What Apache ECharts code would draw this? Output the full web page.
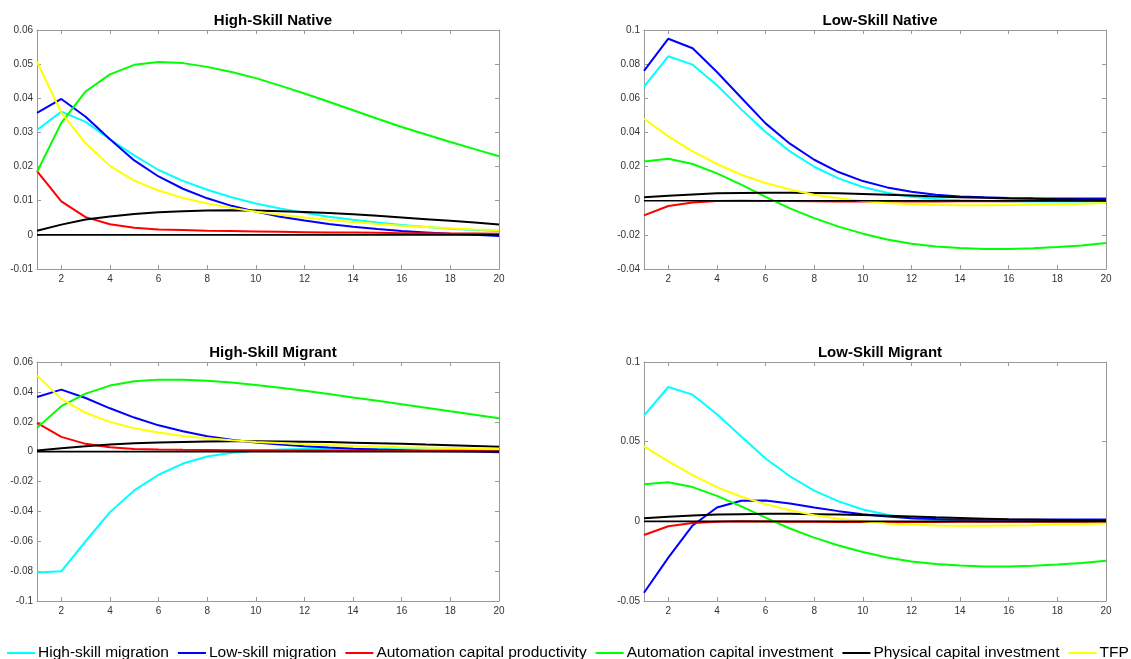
<!DOCTYPE html>
<html>
<head>
<meta charset="utf-8">
<script src="https://cdn.jsdelivr.net/npm/echarts@6/dist/echarts.min.js"></script>
<style>
html,body{margin:0;padding:0;background:#fff;}
#chart{width:1131px;height:659px;}
</style>
</head>
<body>
<div id="chart"></div>
<script>
// ---- data ----
const periods = [1,2,3,4,5,6,7,8,9,10,11,12,13,14,15,16,17,18,19,20];
const xTicks = [2,4,6,8,10,12,14,16,18,20];
const seriesNames = ['High-skill migration','Low-skill migration','Automation capital productivity','Automation capital investment','Physical capital investment','TFP'];
const panelTitles = ['High-Skill Native','Low-Skill Native','High-Skill Migrant','Low-Skill Migrant'];
const zeroLine = [0,0,0,0,0,0,0,0,0,0,0,0,0,0,0,0,0,0,0,0];

// High-Skill Native
const hsn_hs  = [0.0307,0.0361,0.0331,0.0280,0.0233,0.0190,0.0158,0.0132,0.0110,0.0092,0.0077,0.0065,0.0053,0.0044,0.0036,0.0029,0.0023,0.0018,0.0014,0.0011];
const hsn_ls  = [0.0357,0.0398,0.0346,0.0280,0.0218,0.0171,0.0135,0.0107,0.0085,0.0068,0.0053,0.0042,0.0032,0.0024,0.0017,0.0011,0.0007,0.0003,0.0000,-0.0003];
const hsn_acp = [0.0187,0.0098,0.0052,0.0031,0.0021,0.0016,0.0014,0.0012,0.0011,0.0010,0.0009,0.0008,0.0007,0.0007,0.0006,0.0005,0.0005,0.0004,0.0004,0.0003];
const hsn_aci = [0.0184,0.0328,0.0420,0.0470,0.0498,0.0506,0.0503,0.0492,0.0477,0.0459,0.0437,0.0414,0.0390,0.0365,0.0340,0.0316,0.0294,0.0272,0.0251,0.0230];
const hsn_pci = [0.0012,0.0030,0.0045,0.0054,0.0061,0.0066,0.0069,0.0071,0.0072,0.0071,0.0069,0.0067,0.0064,0.0060,0.0056,0.0051,0.0046,0.0041,0.0036,0.0030];
const hsn_tfp = [0.0507,0.0358,0.0268,0.0202,0.0159,0.0130,0.0108,0.0092,0.0079,0.0068,0.0059,0.0051,0.0044,0.0038,0.0032,0.0027,0.0023,0.0019,0.0016,0.0014];

// Low-Skill Native
const lsn_hs  = [0.0668,0.0846,0.0797,0.0676,0.0535,0.0402,0.0289,0.0199,0.0131,0.0080,0.0047,0.0023,0.0010,0.0003,-0.0001,-0.0003,-0.0004,-0.0004,-0.0004,-0.0004];
const lsn_ls  = [0.0760,0.0949,0.0893,0.0754,0.0603,0.0453,0.0334,0.0240,0.0168,0.0115,0.0078,0.0053,0.0035,0.0025,0.0020,0.0016,0.0014,0.0013,0.0013,0.0013];
const lsn_acp = [-0.0086,-0.0031,-0.0010,-0.0002,0.0000,-0.0001,-0.0002,-0.0003,-0.0004,-0.0004,-0.0004,-0.0004,-0.0004,-0.0003,-0.0003,-0.0003,-0.0002,-0.0002,-0.0002,-0.0002];
const lsn_aci = [0.0230,0.0246,0.0215,0.0160,0.0094,0.0023,-0.0045,-0.0102,-0.0152,-0.0193,-0.0227,-0.0252,-0.0268,-0.0277,-0.0283,-0.0283,-0.0279,-0.0271,-0.0262,-0.0248];
const lsn_pci = [0.0020,0.0029,0.0037,0.0043,0.0045,0.0047,0.0047,0.0045,0.0043,0.0039,0.0035,0.0030,0.0025,0.0021,0.0017,0.0013,0.0011,0.0008,0.0006,0.0004];
const lsn_tfp = [0.0480,0.0377,0.0289,0.0215,0.0152,0.0104,0.0066,0.0035,0.0014,-0.0002,-0.0014,-0.0021,-0.0025,-0.0027,-0.0027,-0.0025,-0.0023,-0.0021,-0.0018,-0.0014];

// High-Skill Migrant
const hsm_hs  = [-0.0810,-0.0801,-0.0600,-0.0405,-0.0260,-0.0155,-0.0080,-0.0033,-0.0008,0.0005,0.0014,0.0018,0.0020,0.0020,0.0018,0.0016,0.0014,0.0012,0.0010,0.0008];
const hsm_ls  = [0.0366,0.0415,0.0359,0.0290,0.0228,0.0176,0.0137,0.0103,0.0079,0.0061,0.0047,0.0036,0.0027,0.0020,0.0014,0.0010,0.0005,0.0003,0.0000,-0.0004];
const hsm_acp = [0.0192,0.0099,0.0052,0.0030,0.0018,0.0014,0.0012,0.0011,0.0010,0.0009,0.0008,0.0008,0.0007,0.0006,0.0006,0.0005,0.0005,0.0004,0.0004,0.0003];
const hsm_aci = [0.0159,0.0304,0.0388,0.0442,0.0471,0.0482,0.0482,0.0475,0.0462,0.0446,0.0428,0.0408,0.0386,0.0363,0.0341,0.0317,0.0294,0.0270,0.0247,0.0224];
const hsm_pci = [0.0007,0.0023,0.0036,0.0047,0.0056,0.0061,0.0065,0.0067,0.0069,0.0070,0.0068,0.0066,0.0064,0.0060,0.0056,0.0052,0.0047,0.0043,0.0038,0.0032];
const hsm_tfp = [0.0509,0.0353,0.0260,0.0199,0.0157,0.0128,0.0105,0.0090,0.0076,0.0065,0.0058,0.0050,0.0045,0.0038,0.0034,0.0030,0.0027,0.0025,0.0023,0.0020];

// Low-Skill Migrant
const lsm_hs  = [0.0664,0.0843,0.0795,0.0672,0.0532,0.0394,0.0283,0.0193,0.0125,0.0074,0.0041,0.0018,0.0008,0.0001,-0.0002,-0.0003,-0.0003,-0.0003,-0.0003,-0.0003];
const lsm_ls  = [-0.0448,-0.0228,-0.0026,0.0087,0.0129,0.0131,0.0112,0.0087,0.0064,0.0045,0.0031,0.0020,0.0014,0.0010,0.0010,0.0010,0.0010,0.0011,0.0011,0.0012];
const lsm_acp = [-0.0086,-0.0031,-0.0010,-0.0002,0.0000,-0.0001,-0.0002,-0.0003,-0.0004,-0.0004,-0.0004,-0.0004,-0.0004,-0.0003,-0.0003,-0.0003,-0.0002,-0.0002,-0.0002,-0.0002];
const lsm_aci = [0.0232,0.0245,0.0215,0.0160,0.0094,0.0023,-0.0045,-0.0102,-0.0152,-0.0193,-0.0227,-0.0252,-0.0268,-0.0277,-0.0283,-0.0283,-0.0279,-0.0271,-0.0262,-0.0248];
const lsm_pci = [0.0020,0.0029,0.0037,0.0043,0.0045,0.0047,0.0047,0.0045,0.0043,0.0039,0.0035,0.0030,0.0025,0.0021,0.0017,0.0013,0.0011,0.0008,0.0006,0.0004];
const lsm_tfp = [0.0470,0.0376,0.0290,0.0215,0.0154,0.0108,0.0070,0.0039,0.0016,0.0000,-0.0013,-0.0022,-0.0026,-0.0028,-0.0028,-0.0026,-0.0024,-0.0019,-0.0017,-0.0013];

// y-axis ranges per panel: [min, max, interval]
const yRanges = [[-0.01,0.06,0.01],[-0.04,0.1,0.02],[-0.1,0.06,0.02],[-0.05,0.1,0.05]];

// ---- styling / layout ----
const colors = ['#00ffff','#0000ff','#ff0000','#00ff00','#000000','#ffff00'];
const grids = [
  {left:37, top:30, width:462, height:239},
  {left:644, top:30, width:462, height:239},
  {left:37, top:362, width:462, height:239},
  {left:644, top:362, width:462, height:239}
];
const panelData = [
  [hsn_hs,hsn_ls,hsn_acp,hsn_aci,hsn_pci,hsn_tfp],
  [lsn_hs,lsn_ls,lsn_acp,lsn_aci,lsn_pci,lsn_tfp],
  [hsm_hs,hsm_ls,hsm_acp,hsm_aci,hsm_pci,hsm_tfp],
  [lsm_hs,lsm_ls,lsm_acp,lsm_aci,lsm_pci,lsm_tfp]
];
const axisGray = '#999999';
const font = '"Liberation Sans", Arial, Helvetica, sans-serif';

const option = {
  animation:false,
  backgroundColor:'#ffffff',
  title:[], grid:[], xAxis:[], yAxis:[], series:[],
  legend:{
    data: seriesNames.map((n,i)=>({name:n, itemStyle:{color:colors[i]}})),
    left:7, top:645, orient:'horizontal', padding:0,
    icon:'rect', itemWidth:28, itemHeight:2, itemGap:9,
    textStyle:{fontFamily:font, fontSize:15.5, color:'#000', padding:[0,0,0,-2]},
    selectedMode:false
  }
};

const pair = arr => periods.map((p,i)=>[p, arr[i]]);
const fmt = v => String(+(+v).toFixed(4));

grids.forEach((g,k)=>{
  option.grid.push(Object.assign({containLabel:false}, g));
  option.title.push({
    text: panelTitles[k], left: g.left + g.width/2, top: g.top - 22, textAlign:'center',
    textStyle:{fontFamily:font, fontSize:15, fontWeight:'bold', color:'#000'}
  });
  const [ymin,ymax,yint] = yRanges[k];
  const axLine = {show:true, onZero:false, lineStyle:{color:axisGray, width:1}};
  const tick = {show:true, inside:true, length:4, lineStyle:{color:axisGray}, customValues:xTicks};
  // bottom x
  option.xAxis.push({
    type:'value', gridIndex:k, min:1, max:20, position:'bottom',
    axisLine:axLine, axisTick:tick, splitLine:{show:false},
    axisLabel:{customValues:xTicks, fontFamily:font, fontSize:10, color:'#333', margin:5}
  });
  // top x (box)
  option.xAxis.push({
    type:'value', gridIndex:k, min:1, max:20, position:'top',
    axisLine:axLine, axisTick:tick, splitLine:{show:false}, axisLabel:{show:false}
  });
  // left y
  option.yAxis.push({
    type:'value', gridIndex:k, min:ymin, max:ymax, interval:yint, position:'left',
    axisLine:axLine, axisTick:{show:true, inside:true, length:4, lineStyle:{color:axisGray}},
    splitLine:{show:false},
    axisLabel:{formatter:fmt, fontFamily:font, fontSize:10, color:'#333', margin:4, showMinLabel:true, showMaxLabel:true}
  });
  // right y (box)
  option.yAxis.push({
    type:'value', gridIndex:k, min:ymin, max:ymax, interval:yint, position:'right',
    axisLine:axLine, axisTick:{show:true, inside:true, length:4, lineStyle:{color:axisGray}},
    splitLine:{show:false}, axisLabel:{show:false}
  });
  panelData[k].forEach((arr,i)=>{
    option.series.push({
      type:'line', name:seriesNames[i], xAxisIndex:2*k, yAxisIndex:2*k,
      data:pair(arr), showSymbol:false, symbol:'none', silent:true,
      lineStyle:{color:colors[i], width:2}, itemStyle:{color:colors[i]}, z:2+i
    });
  });
  option.series.push({
    type:'line', name:'zero', xAxisIndex:2*k, yAxisIndex:2*k,
    data:pair(zeroLine), showSymbol:false, symbol:'none', silent:true,
    lineStyle:{color:'#000', width:1.6}, z:10
  });
});

const chart = echarts.init(document.getElementById('chart'), null, {renderer:'canvas'});
chart.setOption(option);
</script>
</body>
</html>
